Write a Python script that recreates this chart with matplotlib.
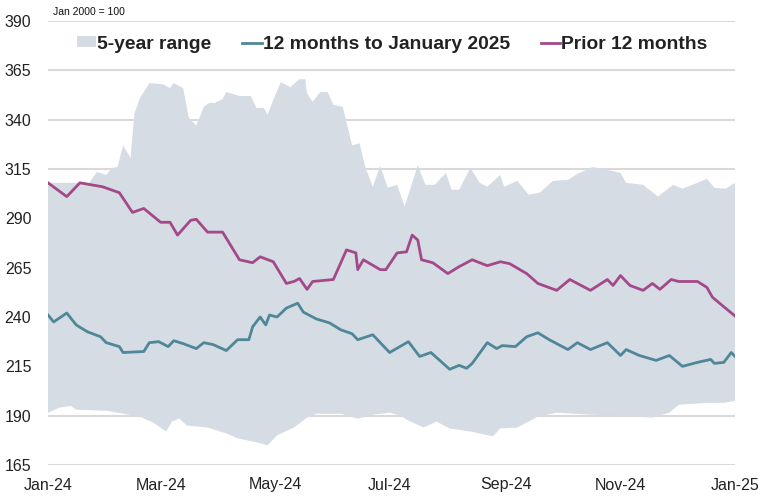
import matplotlib
matplotlib.use("Agg")
import matplotlib.pyplot as plt
import matplotlib.dates as mdates
import pandas as pd

plt.rcParams['font.family'] = ['Liberation Sans', 'DejaVu Sans']

start = pd.Timestamp('2024-01-01')

# days since 1 Jan 2024, values (Jan 2000 = 100)
prior_days = [0, 10, 17, 29, 38, 45, 51, 60, 65, 69, 76, 79, 85, 93, 102, 109, 113, 120,
              127, 131, 134, 138, 141, 152, 156, 159, 164, 165, 168, 177, 180, 186, 191,
              194, 197, 199, 205, 213, 219, 226, 234, 241, 246, 255, 261, 271, 278, 289,
              298, 301, 305, 310, 317, 322, 326, 332, 336, 346, 351, 354, 359, 366]
prior_vals = [308, 301, 308, 306, 303, 293, 295, 288, 288, 281.5, 289, 289.5, 283, 283,
              269, 267.5, 270.5, 268, 257, 258, 259.5, 254, 258, 259, 267.5, 274, 272.5,
              264, 269, 264, 264, 272.5, 273, 281.5, 279, 269, 267.5, 262, 265.5, 269,
              266, 268, 267, 262, 257, 253.5, 259, 253.5, 259, 256, 261, 256, 253.5, 257,
              254, 259, 258, 258, 255, 250, 246, 240.5]

last_days = [0, 3, 10, 15, 21, 28, 31, 38, 40, 51, 54, 59, 64, 67, 72, 79, 83, 88, 95,
             101, 107, 109, 113, 116, 118, 122, 127, 133, 136, 143, 150, 156, 162, 165,
             173, 178, 182, 192, 198, 204, 214, 219, 223, 226, 234, 239, 242, 249, 255,
             261, 267, 277, 282, 289, 298, 305, 308, 315, 324, 331, 338, 346, 353, 355,
             360, 364, 366]
last_vals = [241, 237.5, 242, 236, 232.5, 230, 227, 225, 222, 222.5, 227, 227.5, 225, 228,
             226.5, 224, 227, 226, 223, 228.5, 228.5, 235, 240, 236, 241, 240, 244.5, 247,
             242.5, 239, 237, 233.5, 231.5, 228.5, 231, 226, 222, 227.5, 220, 222, 213.5,
             215.5, 214, 216.5, 227, 224, 225.5, 225, 230, 232, 228.5, 223.5, 227, 223.5,
             227, 220.5, 223.5, 220.5, 218, 220.5, 215, 217, 218.5, 216.5, 217, 222, 220]

high_days = [0, 22, 26, 31, 34, 37, 40, 44, 46, 49, 54, 61, 65, 67, 72, 75, 79, 83, 86,
             89, 93, 95, 102, 108, 111, 115, 117, 120, 124, 129, 134, 137, 138, 141, 145,
             149, 152, 157, 162, 166, 169, 173, 177, 181, 186, 190, 197, 201, 206, 212,
             215, 219, 225, 230, 234, 241, 243, 250, 256, 262, 269, 277, 282, 290, 296,
             305, 308, 317, 325, 333, 338, 346, 351, 355, 361, 366]
high_vals = [308, 308, 313.5, 312, 315.5, 316, 327, 320.5, 343, 351, 358.5, 358, 356,
             358.5, 356, 341, 337, 346.5, 348.5, 348.5, 350.5, 354, 352, 352, 346, 346,
             342.5, 350, 359, 356.5, 360.5, 360.5, 353.5, 349, 354, 354, 347.5, 346.5,
             327, 328, 316, 306, 316.5, 305.5, 307, 296, 317, 307, 307, 313, 304.5, 304.5,
             315.5, 308, 306, 312, 306, 309, 302, 303, 309, 309.5, 312.5, 316, 315, 313,
             308, 307, 301, 307, 305, 308, 310, 305.5, 305, 308]

low_days = [0, 6, 12, 15, 31, 40, 49, 56, 63, 66, 70, 74, 85, 95, 101, 111, 117, 122,
            131, 138, 143, 156, 165, 173, 182, 188, 191, 200, 207, 214, 225, 237, 241,
            250, 261, 271, 289, 306, 322, 331, 336, 351, 360, 366]
low_vals = [191.5, 194, 195, 193, 192.5, 191, 189.5, 186.5, 182, 187, 188.5, 185, 184,
            181, 178.5, 176.5, 175, 180, 184, 189, 191, 191, 188.5, 190.5, 191.5, 190,
            188, 184, 187, 183.5, 182, 179.5, 183.5, 184, 189.5, 191.5, 190.5, 190, 189,
            191.5, 195.5, 196.5, 196.5, 197.5]

y_ticks = [165, 190, 215, 240, 265, 290, 315, 340, 365, 390]
x_tick_dates = pd.date_range('2024-01-01', '2025-01-01', freq='2MS')

fill_color = '#d6dce4'
teal = '#4f8799'
magenta = '#a3498a'


def to_dates(days):
    return start + pd.to_timedelta(days, unit='D')


high_dates = list(to_dates(high_days))
low_dates = list(to_dates(low_days))
band_x = high_dates + low_dates[::-1]
band_y = high_vals + low_vals[::-1]

fig = plt.figure(figsize=(7.67, 5.0), dpi=100)
ax = fig.add_axes([0.0626, 0.07, 0.8957, 0.888])

ax.fill(band_x, band_y, color=fill_color, lw=0, label='5-year range', zorder=1)
ax.plot(to_dates(last_days), last_vals, color=teal, lw=2.0,
        label='12 months to January 2025', zorder=3)
ax.plot(to_dates(prior_days), prior_vals, color=magenta, lw=2.0,
        label='Prior 12 months', zorder=3)

ax.set_ylim(165, 390)
ax.set_yticks(y_ticks)
ax.set_xlim(pd.Timestamp('2024-01-01'), pd.Timestamp('2025-01-01'))
ax.set_xticks(x_tick_dates)
ax.xaxis.set_major_formatter(mdates.DateFormatter('%b-%y'))

ax.grid(axis='y', color='#d9d9d9', lw=1.5, zorder=0)
ax.set_axisbelow(True)
for s in ax.spines.values():
    s.set_visible(False)
ax.tick_params(axis='both', length=0, labelsize=11.5, colors='#222222')
ax.tick_params(axis='y', pad=12)
ax.tick_params(axis='x', pad=9)

leg = ax.legend(loc='upper left', bbox_to_anchor=(0.031, 0.984), ncol=3, frameon=False,
                prop={'weight': 'bold', 'size': 13.9}, handlelength=1.0,
                handleheight=0.5, handletextpad=0.05, columnspacing=1.6,
                borderaxespad=0)
for t in leg.get_texts():
    t.set_color('#222222')

fig.text(53 / 767, 1 - 12 / 500, 'Jan 2000 = 100', fontsize=7.5, va='center', ha='left',
         color='#111111')

fig.savefig('out.png', dpi=100)
